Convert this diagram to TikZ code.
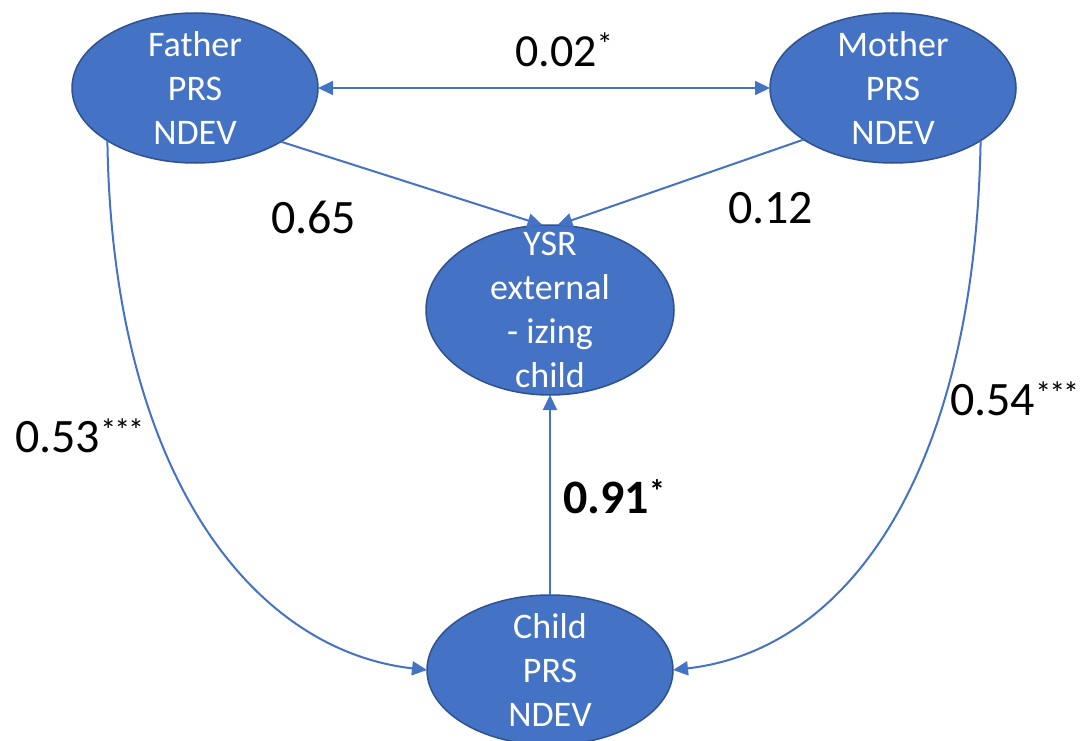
\documentclass[tikz,border=0pt]{standalone}
\usepackage{fontspec}
\setmainfont{Carlito}
\usetikzlibrary{arrows.meta,shapes.geometric}
\definecolor{nodeblue}{HTML}{4472C4}
\definecolor{nodeedge}{HTML}{2F528F}
\definecolor{linkblue}{HTML}{4472C4}
\newcommand{\stars}[1]{\raisebox{11pt}{\fontsize{32}{32}\selectfont #1}}
\tikzset{
  var/.style={ellipse, fill=nodeblue, draw=nodeedge, line width=1.5pt,
    minimum width=246pt, minimum height=150pt, inner xsep=0pt,
    inner ysep=-40pt, outer sep=0pt,
    text=white, align=center, font=\fontsize{36}{44}\selectfont},
  link/.style={draw=linkblue, line width=2pt,
    -{Triangle[length=15pt,width=14pt]}},
  coef/.style={anchor=base west, inner sep=0pt, text=black,
    font=\fontsize{48}{48}\selectfont}
}
\begin{document}
\begin{tikzpicture}[x=1pt, y=-1pt]
\useasboundingbox (0,0) rectangle (1084,741);
\clip (0,0) rectangle (1084,741);

% the four variables
\node[var] (father) at (195,88) {Father\\PRS\\NDEV};
\node[var] (mother) at (893,88) {Mother\\PRS\\NDEV};
\node[var, minimum width=248pt, minimum height=170pt] (ysr) at (550,310)
  {YSR\\external\\- izing\\child};
\node[var] (child) at (550,670) {Child\\PRS\\NDEV};

% paths
\draw[link, {Triangle[length=15pt,width=14pt]}-{Triangle[length=15pt,width=14pt]}]
  (father.east) -- (mother.west);
\draw[link] (father.-32) -- (ysr.95);
\draw[link] (mother.-150) -- (ysr.85);
\draw[link] (child.north) -- (ysr.south);
\draw[link] (father.-149) .. controls (112,470) and (250,650) .. (child.west);
\draw[link] (mother.-31) .. controls (975,470) and (850,650) .. (child.east);

% path coefficients
\node[coef, font=\fontsize{46}{46}\selectfont] (c1) at (515,67) {0.02\stars{*}};
\node[coef] (c2) at (271,233) {0.65};
\node[coef] (c3) at (728,223) {0.12};
\node[coef] (c4) at (15,452) {0.53\stars{*\kern-2pt*\kern-2pt*}};
\node[coef] (c5) at (950,415) {0.54\stars{*\kern-2pt*\kern-2pt*}};
\node[coef] (c6) at (563,513) {\textbf{0.91}\stars{\textbf{*}}};
\end{tikzpicture}
\end{document}
